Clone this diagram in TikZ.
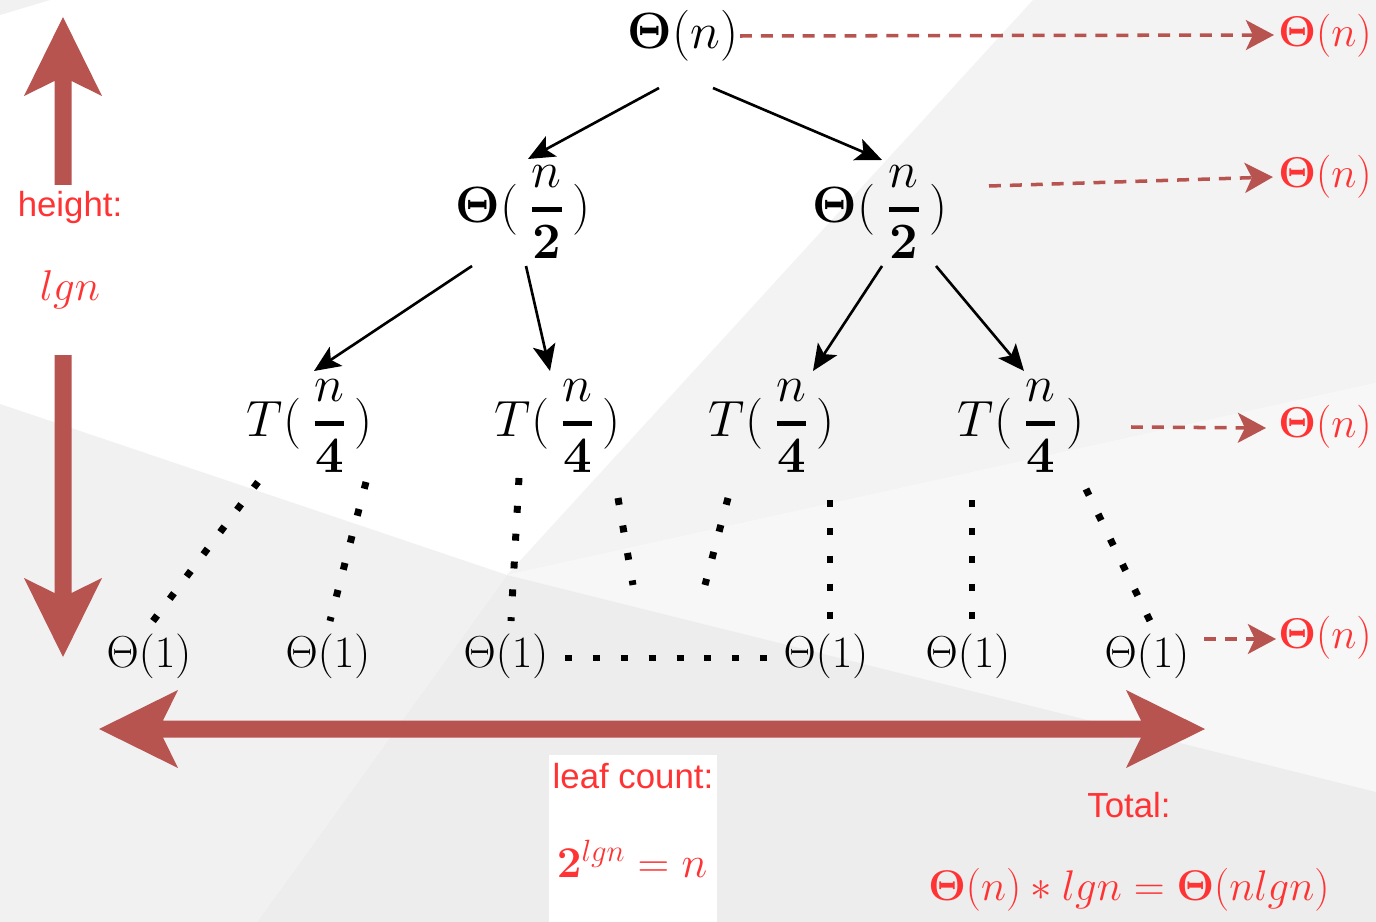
\RequirePackage{fix-cm}
\documentclass[tikz,border=0pt]{standalone}
\usepackage{amsmath}
\usepackage{bm}
\usepackage{fontspec}
\usetikzlibrary{arrows.meta,calc}
\newfontfamily\arialfont{Liberation Sans}
\definecolor{redtxt}{HTML}{FF3333}
\definecolor{arrowred}{HTML}{B85450}
\definecolor{bgA}{HTML}{F3F3F3}
\definecolor{bgB}{HTML}{F7F7F7}
\definecolor{bgC}{HTML}{EDEDED}
\definecolor{bgD}{HTML}{F1F1F1}
\newcommand\fsTree{\fontsize{29}{32}\selectfont}
\newcommand\fsLeaf{\fontsize{25.5}{28}\selectfont}
\newcommand\fsRed{\fontsize{24.5}{28}\selectfont}
\newcommand\fsSans{\fontsize{19.8}{24}\selectfont}
\newcommand\fracb[2]{\mkern4mu\genfrac{}{}{2.6pt}{0}{#1}{#2}\mkern3mu}
\begin{document}
\begin{tikzpicture}[x=0.02cm,y=-0.02cm,
  mnode/.style={inner sep=0pt,font=\fsTree},
  leafnode/.style={inner sep=0pt,font=\fsLeaf},
  rlabel/.style={inner sep=0pt,text=redtxt,font=\fsRed},
  rmath/.style={inner sep=0pt,text=redtxt,font=\fsRed},
  slabel/.style={inner sep=0pt,text=redtxt,font=\arialfont\fsSans},
  tarrow/.style={line width=1.5pt,-{Stealth[length=15pt,width=13pt,inset=3.5pt]}},
  dotline/.style={line width=3.97pt,line cap=butt,dash pattern=on 3.97pt off 11.9pt},
  dasharrow/.style={draw=arrowred,line width=2pt,dash pattern=on 6.8pt off 5.1pt,-{Stealth[length=16pt,width=17pt,inset=4pt]}},
  bigarrow/.style={fill=arrowred}]
\useasboundingbox (0,0) rectangle (1376,922);
% background
\fill[white] (0,0) rectangle (1376,922);
\coordinate (J) at (507,575);
\fill[bgA] (1033,0) -- (1376,0) -- (1376,383) -- (J) -- cycle;
\fill[bgB] (J) -- (1376,383) -- (1376,792) -- cycle;
\fill[bgC] (J) -- (1376,792) -- (1376,922) -- (257,922) -- cycle;
\fill[bgD] (0,404) -- (J) -- (257,922) -- (0,922) -- cycle;
\fill[bgD] (0,0) -- (50,0) -- (0,15) -- cycle;
% white label boxes
\fill[white] (15,185) rectangle (128,355);
\fill[white] (549,755) rectangle (717,922);
% big arrows
\fill[bigarrow] (63,17) -- (102,96) -- (71.5,81) -- (71.5,185) -- (54.5,185) -- (54.5,81) -- (24,96) -- cycle;
\fill[bigarrow] (63,657) -- (102,578) -- (71.5,593) -- (71.5,355) -- (54.5,355) -- (54.5,593) -- (24,578) -- cycle;
\fill[bigarrow] (99,729) -- (178,690) -- (163,720.5) -- (1141,720.5) -- (1126,690) -- (1205,729)
  -- (1126,768) -- (1141,737.5) -- (163,737.5) -- (178,768) -- cycle;
% tree nodes
\node[mnode] (root) at (683,36) {$\bm{\Theta}(n)$};
\node[mnode] (l2a) at (523,212) {$\bm{\Theta}(\fracb{n}{\bm{2}})$};
\node[mnode] (l2b) at (880,212) {$\bm{\Theta}(\fracb{n}{\bm{2}})$};
\node[mnode] (t1) at (310,426) {$T(\fracb{n}{\bm{4}})$};
\node[mnode] (t2) at (558,426) {$T(\fracb{n}{\bm{4}})$};
\node[mnode] (t3) at (772,426) {$T(\fracb{n}{\bm{4}})$};
\node[mnode] (t4) at (1021,426) {$T(\fracb{n}{\bm{4}})$};
\node[leafnode] (f1) at (149,656) {$\Theta(1)$};
\node[leafnode] (f2) at (328,656) {$\Theta(1)$};
\node[leafnode] (f3) at (506,656) {$\Theta(1)$};
\node[leafnode] (f4) at (826,656) {$\Theta(1)$};
\node[leafnode] (f5) at (968,656) {$\Theta(1)$};
\node[leafnode] (f6) at (1147,656) {$\Theta(1)$};
% red level totals
\node[rlabel] (r1) at (1325,36) {$\bm{\Theta}(n)$};
\node[rlabel] (r2) at (1325,177) {$\bm{\Theta}(n)$};
\node[rlabel] (r3) at (1325,427) {$\bm{\Theta}(n)$};
\node[rlabel] (r4) at (1325,638) {$\bm{\Theta}(n)$};
% side labels
\node[slabel] (hlab) at (70,208) {height:};
\node[rmath] (hval) at (70,290) {$lgn$};
\node[slabel] (llab) at (633,776) {leaf count:};
\node[rmath,font=\fontsize{25}{28}\selectfont] (lval) at (632,859) {$\bm{2}^{lgn}=n$};
\node[slabel] (tlab) at (1129,805) {Total:};
\node[rmath,font=\fontsize{24.4}{28}\selectfont] (tval) at (1129,890) {$\bm{\Theta}(n)\ast lgn=\bm{\Theta}(nlgn)$};
% tree arrows
\draw[tarrow] ($(root)+(-24,52)$) -- ($(l2a)+(5,-53)$);
\draw[tarrow] ($(root)+(30,52)$) -- ($(l2b)+(2,-52)$);
\draw[tarrow] ($(l2a)+(-51,54)$) -- ($(t1)+(4,-55)$);
\draw[tarrow] ($(l2a)+(3,54)$) -- ($(t2)+(-8,-55)$);
\draw[tarrow] ($(l2b)+(2,54)$) -- ($(t3)+(41,-55)$);
\draw[tarrow] ($(l2b)+(56,54)$) -- ($(t4)+(3,-55)$);
% dotted continuations
\coordinate (e4) at (633,585);
\coordinate (e5) at (705,585);
\draw[dotline] ($(t1)+(-52,56)$) -- ($(f1)+(4,-35)$);
\draw[dotline] ($(t1)+(56,56)$) -- ($(f2)+(2,-35)$);
\draw[dotline] ($(t2)+(-39,52)$) -- ($(f3)+(5,-35)$);
\draw[dotline] ($(t2)+(60,72)$) -- (e4);
\draw[dotline] ($(t3)+(-44,72)$) -- (e5);
\draw[dotline] ($(t3)+(58,74)$) -- ($(f4)+(4,-35)$);
\draw[dotline] ($(t4)+(-49,74)$) -- ($(f5)+(4,-35)$);
\draw[dotline] ($(t4)+(65,63)$) -- ($(f6)+(3,-35)$);
\draw[dotline] ($(f3)+(59,2)$) -- ($(f4)+(-56,2)$);
% dashed level arrows
\draw[dasharrow] ($(root)+(57,0)$) -- ($(r1)+(-51,-1)$);
\draw[dasharrow] ($(l2b)+(109,-26)$) -- ($(r2)+(-52,0)$);
\draw[dasharrow] ($(t4)+(110,1)$) -- ($(r3)+(-59,1)$);
\draw[dasharrow] ($(f6)+(57,-17)$) -- ($(r4)+(-49,1)$);
\end{tikzpicture}
\end{document}
